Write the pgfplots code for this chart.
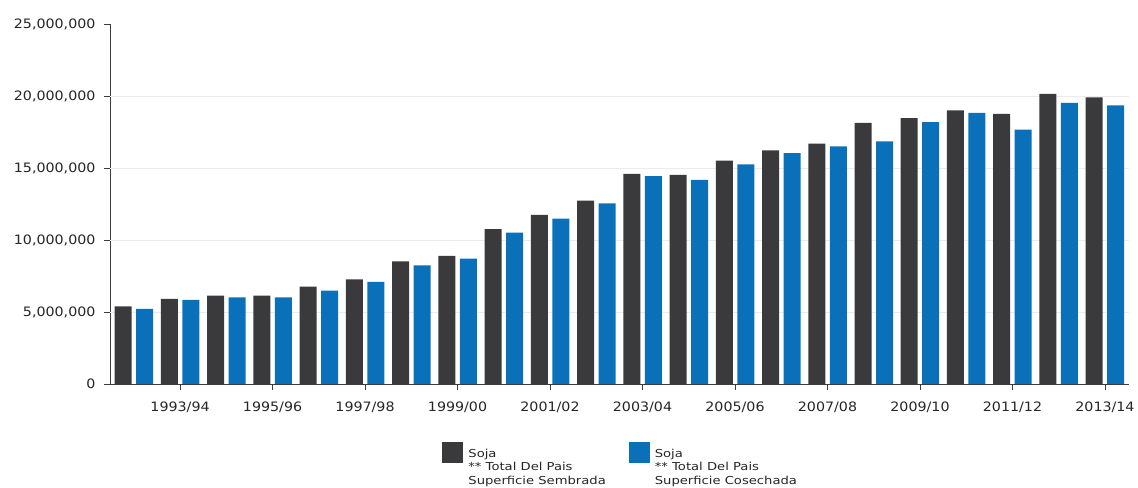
\documentclass[border=0pt]{standalone}
\usepackage{fontspec}
\setmainfont{DejaVu Sans}[FakeStretch=1.1]
\newfontfamily\legfont{DejaVu Sans}[FakeStretch=1.2]
\usepackage{pgfplots}
\pgfplotsset{compat=1.18}
\definecolor{darkbar}{RGB}{58,58,60}
\definecolor{bluebar}{RGB}{10,112,186}
\definecolor{axisgray}{RGB}{60,60,60}
\begin{document}
\begin{tikzpicture}
\useasboundingbox (0,0) rectangle (1138bp,488bp);
\begin{axis}[
  at={(110bp,104bp)}, anchor=south west,
  scale only axis, width=1019bp, height=360bp,
  ybar=4.5bp, bar width=17bp,
  xmin=-0.515, xmax=21.52, ymin=0, ymax=25000000,
  scaled y ticks=false,
  axis x line*=bottom, axis y line*=left,
  axis line style={axisgray, line width=0.9bp},
  xtick={1,3,5,7,9,11,13,15,17,19,21},
  xticklabels={1993/94,1995/96,1997/98,1999/00,2001/02,2003/04,2005/06,2007/08,2009/10,2011/12,2013/14},
  ytick={0,5000000,10000000,15000000,20000000,25000000},
  yticklabels={0,{5,000,000},{10,000,000},{15,000,000},{20,000,000},{25,000,000}},
  extra y ticks={5000000,10000000,15000000,20000000},
  extra y tick labels={},
  extra y tick style={grid=major, major tick length=0pt},
  tick style={axisgray, line width=0.9bp},
  tick align=outside, major tick length=6bp,
  grid style={black!8, line width=0.6bp},
  ticklabel style={font=\fontsize{13}{15}\selectfont, text=black!85},
  xticklabel style={yshift=-8bp},
  yticklabel style={xshift=-5bp},
  legend style={at={(0.326,-0.161)}, anchor=north west, draw=none, fill=none,
    inner sep=0pt, font=\legfont\fontsize{11}{13.5}\selectfont, text=black!85,
    nodes={align=left, inner xsep=5bp, inner ysep=3bp},
    /tikz/every even column/.append style={column sep=18bp}},
  legend columns=2,
  legend cell align=left,
]
\addplot[fill=darkbar, draw=none,
  legend image code/.code={\fill[darkbar] (0bp,4bp) rectangle (21bp,25bp);}]
  coordinates {
  (0,5390000) (1,5920000) (2,6130000) (3,6130000) (4,6760000) (5,7260000)
  (6,8510000) (7,8890000) (8,10760000) (9,11740000) (10,12730000) (11,14600000)
  (12,14530000) (13,15510000) (14,16220000) (15,16690000) (16,18130000) (17,18470000)
  (18,19000000) (19,18750000) (20,20140000) (21,19900000)};
\addlegendentry{Soja\\** Total Del Pais\\Superficie Sembrada}
\addplot[fill=bluebar, draw=none,
  legend image code/.code={\fill[bluebar] (0bp,4bp) rectangle (21bp,25bp);}]
  coordinates {
  (0,5210000) (1,5850000) (2,6010000) (3,6010000) (4,6480000) (5,7100000)
  (6,8240000) (7,8700000) (8,10510000) (9,11480000) (10,12540000) (11,14440000)
  (12,14170000) (13,15250000) (14,16040000) (15,16500000) (16,16850000) (17,18190000)
  (18,18820000) (19,17660000) (20,19530000) (21,19350000)};
\addlegendentry{Soja\\** Total Del Pais\\Superficie Cosechada}
\end{axis}
\end{tikzpicture}
\end{document}
